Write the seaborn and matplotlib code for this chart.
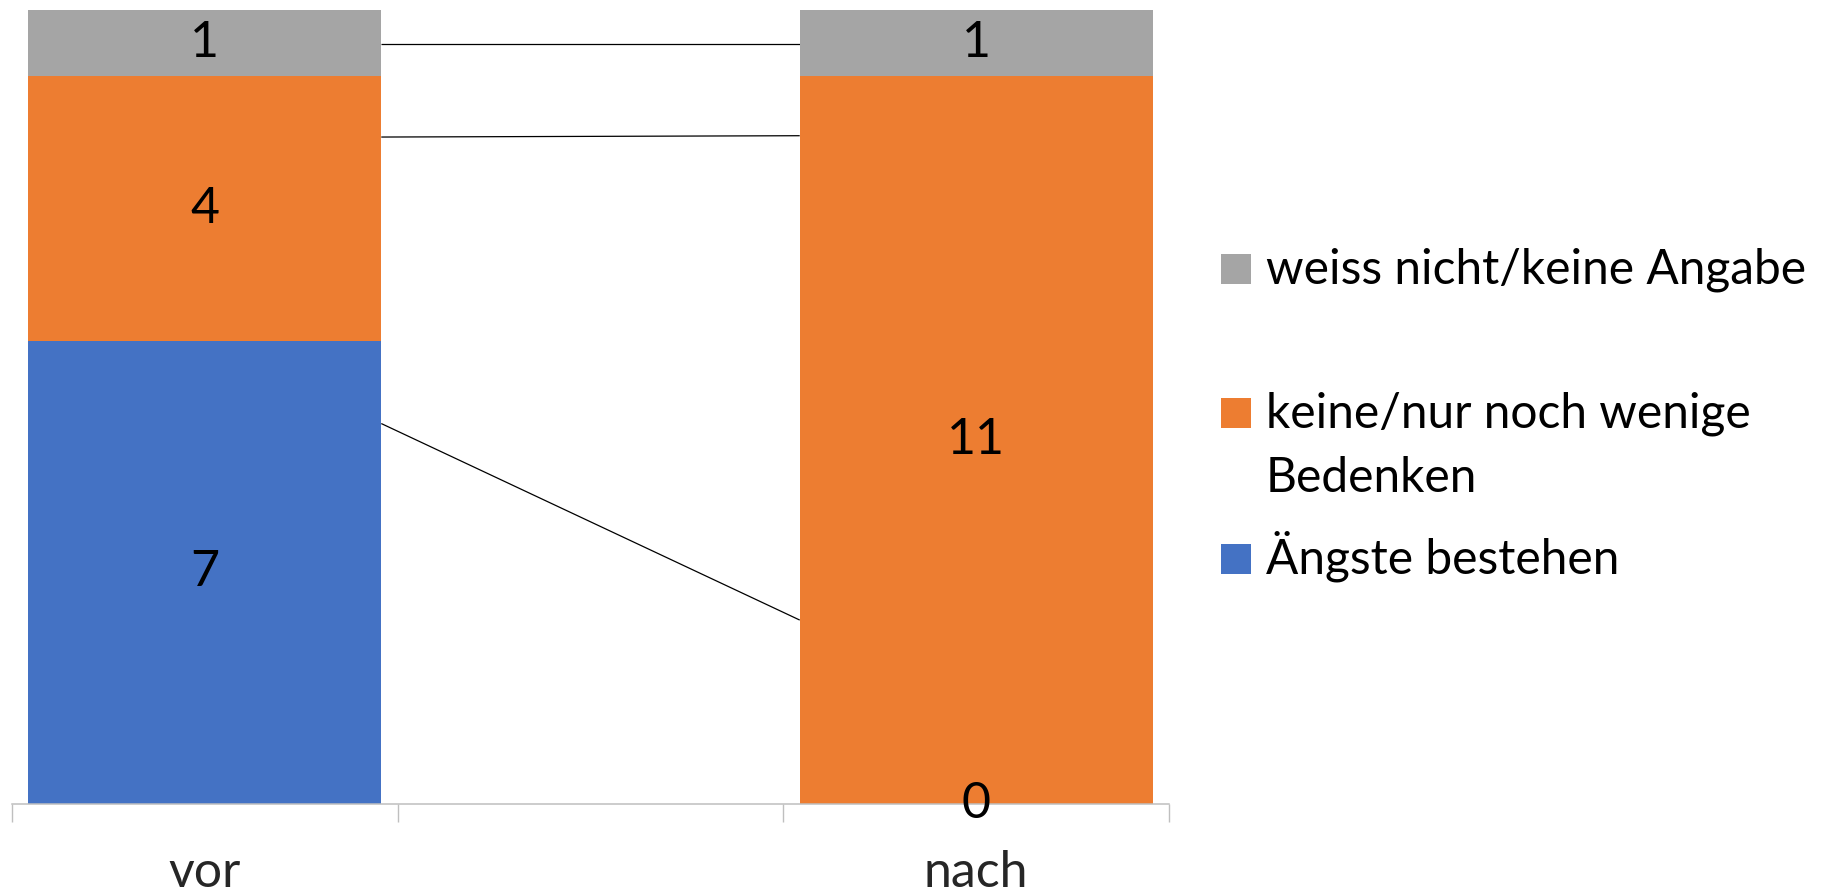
import numpy as np
import pandas as pd
import matplotlib
matplotlib.use("Agg")
import matplotlib.pyplot as plt
from matplotlib.patches import Rectangle
import seaborn as sns

# Categories on the x axis (the middle slot is an empty spacer)
categories = ["vor", "", "nach"]
groups = ["vor", "nach"]

# Counts per answer and point in time
aengste = [7, 0]            # Ängste bestehen
keine_bedenken = [4, 11]    # keine/nur noch wenige Bedenken
weiss_nicht = [1, 1]        # weiss nicht/keine Angabe

# Levels of the connecting lines between the two bars (vor -> nach)
connector_vor = [11.48, 10.08, 5.75]
connector_nach = [11.48, 10.10, 2.78]

series_labels = ["weiss nicht/keine Angabe", "keine/nur noch wenige\nBedenken", "Ängste bestehen"]
colors = {"blue": "#4472C4", "orange": "#ED7D31", "gray": "#A5A5A5"}

sns.set_theme(style="white")
plt.rcParams["font.family"] = ["Lato", "DejaVu Sans"]

W, H = 1824, 894
fig = plt.figure(figsize=(W / 100, H / 100), dpi=100)
ax = fig.add_axes([12 / W, 90 / H, (1169 - 12) / W, 794 / H])

df = pd.DataFrame({
    "zeitpunkt": groups,
    "blau": np.array(aengste),
    "orange": np.array(aengste) + np.array(keine_bedenken),
})
df["grau"] = df["orange"] + np.array(weiss_nicht)

bar_w = 0.915
# Draw cumulative totals back to front so the layers read as stacked segments
for col, c in [("grau", colors["gray"]), ("orange", colors["orange"]), ("blau", colors["blue"])]:
    sns.barplot(data=df, x="zeitpunkt", y=col, order=categories, color=c,
                width=bar_w, saturation=1, errorbar=None, linewidth=0,
                edgecolor="none", ax=ax, zorder=2)

# Connecting lines between the bars
xpos = {g: categories.index(g) for g in groups}
for lv, ln in zip(connector_vor, connector_nach):
    ax.plot([xpos["vor"] + bar_w / 2, xpos["nach"] - bar_w / 2], [lv, ln],
            color="black", lw=0.9, zorder=1, solid_capstyle="butt")

# Segment value labels
fs = 36
for i, g in enumerate(groups):
    vals = [aengste[i], keine_bedenken[i], weiss_nicht[i]]
    base = 0
    for v in vals:
        ax.text(xpos[g], base + v / 2, f"{v}", ha="center", va="center",
                fontsize=fs, color="black", zorder=5)
        base += v

ax.set_ylim(0, 12)
ax.set_xlim(-0.5, len(categories) - 0.5)
ax.set_xlabel("")
ax.set_ylabel("")
ax.set_yticks([])
for s in ["top", "right", "left"]:
    ax.spines[s].set_visible(False)
ax.spines["bottom"].set_color("#BFBFBF")
ax.spines["bottom"].set_linewidth(1.1)

# Category boundaries as ticks, names centred between them
ax.set_xticks(np.arange(-0.5, len(categories), 1.0))
ax.set_xticklabels([])
ax.tick_params(axis="x", which="major", direction="out", length=13,
               width=1.0, color="#BFBFBF", bottom=True)
ax.set_xticks(np.arange(len(categories)), minor=True)
ax.set_xticklabels(categories, minor=True, fontsize=fs)
ax.tick_params(axis="x", which="minor", length=0, pad=33)

# Legend drawn on the figure
legend_fs = 34.5
legend_items = [
    (colors["gray"], [series_labels[0]], [283]),
    (colors["orange"], series_labels[1].split("\n"), [427, 492]),
    (colors["blue"], [series_labels[2]], [573]),
]
for c, lines, baselines in legend_items:
    b0 = baselines[0]
    fig.patches.append(Rectangle((1221 / W, (H - b0 - 1) / H), 30 / W, 30 / H,
                                 transform=fig.transFigure, facecolor=c,
                                 edgecolor="none"))
    for t, b in zip(lines, baselines):
        fig.text(1266 / W, (H - b) / H, t, ha="left", va="baseline",
                 fontsize=legend_fs, color="black")

fig.savefig("out.png", dpi=100, facecolor="white")
